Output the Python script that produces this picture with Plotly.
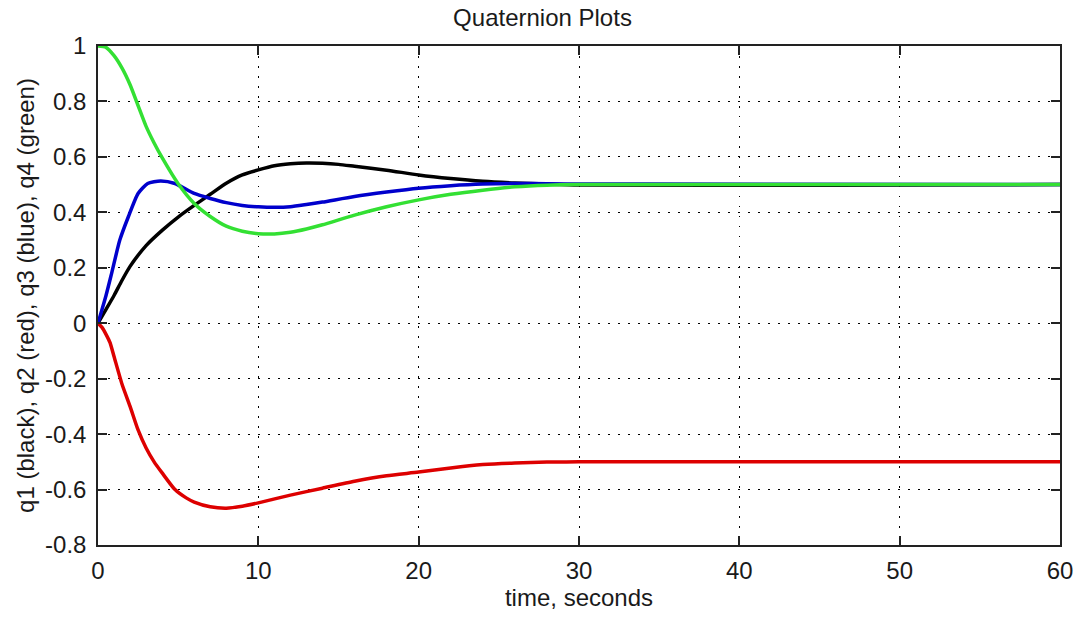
import plotly.graph_objects as go

# time samples (seconds) and quaternion components
t_q1 = [0, 0.5, 1, 1.5, 2, 3, 4, 5, 6, 7, 8, 9, 10, 11, 12, 13, 14, 15, 16, 18, 20, 22, 24, 26, 28, 30, 46, 60]
q1 = [0, 0.05, 0.10, 0.155, 0.205, 0.28, 0.335, 0.383, 0.425, 0.465, 0.505, 0.535, 0.553, 0.568, 0.575, 0.578, 0.577, 0.573, 0.566, 0.552, 0.535, 0.522, 0.512, 0.506, 0.502, 0.499, 0.498, 0.5]

t_q2 = [0, 0.25, 0.5, 0.75, 1, 1.5, 2, 2.5, 3, 3.5, 4, 4.8, 5.5, 6, 7, 8, 9, 10, 12, 14, 16, 18, 20, 22, 24, 26, 28, 30, 60]
q2 = [0, -0.015, -0.04, -0.07, -0.12, -0.22, -0.30, -0.385, -0.45, -0.50, -0.54, -0.60, -0.63, -0.645, -0.662, -0.667, -0.66, -0.648, -0.62, -0.595, -0.57, -0.55, -0.537, -0.522, -0.51, -0.504, -0.501, -0.5, -0.5]

t_q3 = [0, 0.5, 0.85, 1.36, 1.9, 2.5, 3.1, 3.9, 4.8, 6, 7, 8, 9, 10, 11, 12, 13, 14, 16, 18, 20, 22, 24, 26, 28, 30, 34, 60]
q3 = [0, 0.10, 0.18, 0.30, 0.385, 0.468, 0.504, 0.513, 0.504, 0.468, 0.45, 0.435, 0.425, 0.42, 0.418, 0.42, 0.428, 0.437, 0.457, 0.473, 0.487, 0.496, 0.502, 0.504, 0.503, 0.502, 0.502, 0.5]

t_q4 = [0, 0.5, 1, 1.5, 2, 2.5, 3, 3.5, 4, 5, 6, 7, 8, 9, 10, 11, 12, 13, 14, 16, 18, 20, 22, 24, 26, 28, 30, 60]
q4 = [1.0, 0.995, 0.965, 0.92, 0.86, 0.785, 0.71, 0.65, 0.597, 0.503, 0.432, 0.385, 0.35, 0.332, 0.323, 0.322, 0.328, 0.34, 0.355, 0.39, 0.42, 0.445, 0.465, 0.48, 0.492, 0.498, 0.5, 0.5]

x_ticks = [0, 10, 20, 30, 40, 50, 60]
y_ticks = [1, 0.8, 0.6, 0.4, 0.2, 0, -0.2, -0.4, -0.6, -0.8]
y_tick_labels = ["1", "0.8", "0.6", "0.4", "0.2", "0", "-0.2", "-0.4", "-0.6", "-0.8"]

FONT = "Liberation Sans, Arial, sans-serif"
TXT = "#1a1a1a"

fig = go.Figure()
series = [
    (t_q1, q1, "#000000", "q1"),
    (t_q2, q2, "#dd0000", "q2"),
    (t_q3, q3, "#0000cc", "q3"),
    (t_q4, q4, "#33e033", "q4"),
]
for tx, ys, col, name in series:
    fig.add_trace(go.Scatter(
        x=tx, y=ys, mode="lines", name=name,
        line=dict(color=col, width=3.5, shape="spline", smoothing=0.6),
        showlegend=False,
    ))

fig.update_layout(
    width=1085, height=619,
    margin=dict(l=98, r=18, t=46, b=74),
    paper_bgcolor="white", plot_bgcolor="white",
    font=dict(family=FONT, size=24, color=TXT),
    title=dict(text="Quaternion Plots", x=0.5, xanchor="center", y=0.971, yanchor="middle",
               font=dict(family=FONT, size=24, color=TXT)),
)
fig.update_xaxes(
    range=[0, 60], tickvals=x_ticks, ticktext=[str(v) for v in x_ticks],
    showline=True, linecolor="#222", linewidth=1.5, mirror="allticks",
    ticks="inside", ticklen=9, tickwidth=1.5, tickcolor="#222",
    showgrid=True, gridcolor="#000", gridwidth=1, griddash="1.5px,8.5px",
    zeroline=False, ticklabelstandoff=3,
    tickfont=dict(family=FONT, size=24, color=TXT),
    title=dict(text="time, seconds", font=dict(family=FONT, size=24, color=TXT), standoff=2),
)
fig.update_yaxes(
    range=[-0.8, 1], tickvals=y_ticks, ticktext=y_tick_labels,
    showline=True, linecolor="#222", linewidth=1.5, mirror="allticks",
    ticks="inside", ticklen=9, tickwidth=1.5, tickcolor="#222",
    showgrid=True, gridcolor="#000", gridwidth=1, griddash="1.5px,8.5px",
    zeroline=False, ticklabelstandoff=5,
    tickfont=dict(family=FONT, size=24, color=TXT),
    title=dict(text="q1 (black), q2 (red), q3 (blue), q4 (green)",
               font=dict(family=FONT, size=24, color=TXT), standoff=4),
)
fig.write_html("out.html")
